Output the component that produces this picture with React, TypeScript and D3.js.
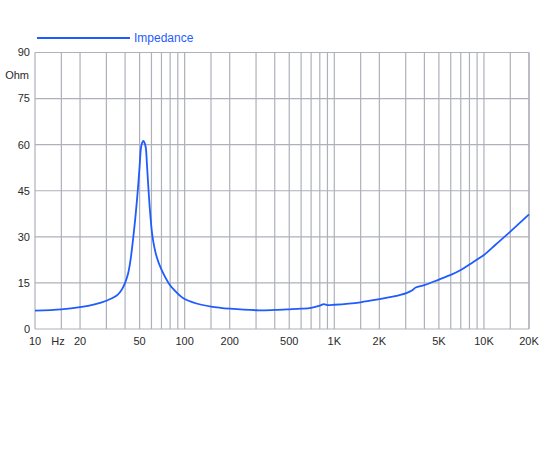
import * as d3 from "d3";
import { useEffect, useRef } from "react";

// impedance curve (Hz, Ohm)
const freqs = [
  10, 15, 20, 25, 30, 35, 37, 38.5, 40, 41, 42, 43.5, 45.4, 47, 48.6, 50, 51.1,
  52, 53, 54, 55, 56, 57.4, 59, 61, 65, 70, 78, 85, 98, 120, 150, 200, 300,
  400, 500, 600, 700, 800, 850, 900, 1000, 1500, 2000, 2500, 3000, 3300, 3500,
  4000, 5000, 6000, 7000, 8000, 9000, 10000, 12000, 15000, 20000,
];
const ohms = [
  6.0, 6.4, 7.1, 8.0, 9.2, 10.8, 12.0, 13.3, 15.0, 16.5, 18.3, 22.5, 30.0,
  37.0, 45.0, 53.0, 59.0, 60.6, 61.2, 60.6, 59.0, 53.5, 45.0, 37.0, 30.0,
  23.5, 19.3, 15.0, 12.7, 10.0, 8.3, 7.3, 6.6, 6.1, 6.2, 6.4, 6.6, 6.9, 7.6,
  8.1, 7.8, 7.9, 8.7, 9.7, 10.6, 11.6, 12.5, 13.5, 14.3, 16.1, 17.6, 19.2,
  21.0, 22.6, 24.1, 27.5, 31.7, 37.3,
];

const yTicks = [0, 15, 30, 45, 60, 75, 90];
const xLabels = [
  { f: 10, t: "10" },
  { f: 20, t: "20" },
  { f: 50, t: "50" },
  { f: 100, t: "100" },
  { f: 200, t: "200" },
  { f: 500, t: "500" },
  { f: 1000, t: "1K" },
  { f: 2000, t: "2K" },
  { f: 5000, t: "5K" },
  { f: 10000, t: "10K" },
  { f: 20000, t: "20K" },
];
const gridMult = [1, 1.5, 2, 3, 4, 5, 6, 7, 8, 9];
const decades = [10, 100, 1000, 10000];

const App = () => {
  const ref = useRef<SVGSVGElement | null>(null);

  useEffect(() => {
    const svg = d3.select(ref.current);
    svg.selectAll("*").remove();

    const left = 35;
    const right = 529;
    const top = 52.5;
    const bottom = 329;
    const font = "Liberation Sans, Arial, Helvetica, sans-serif";
    const gridColor = "#aeb1ba";
    const blue = "#1f5cff";
    const textColor = "#2a2a2a";

    const x = d3.scaleLog().domain([10, 20000]).range([left, right]);
    const y = d3.scaleLinear().domain([0, 90]).range([bottom, top]);

    const gridFreqs: number[] = [];
    decades.forEach(d => gridMult.forEach(m => {
      const f = d * m;
      if (f <= 20000) gridFreqs.push(f);
    }));
    gridFreqs.push(20000);

    const g = svg.append("g");

    g.selectAll("line.vx")
      .data(gridFreqs)
      .enter()
      .append("line")
      .attr("x1", d => x(d))
      .attr("x2", d => x(d))
      .attr("y1", top)
      .attr("y2", bottom)
      .attr("stroke", gridColor)
      .attr("stroke-width", 1.2);

    g.selectAll("line.hy")
      .data(yTicks)
      .enter()
      .append("line")
      .attr("x1", left)
      .attr("x2", right)
      .attr("y1", d => y(d))
      .attr("y2", d => y(d))
      .attr("stroke", gridColor)
      .attr("stroke-width", 1.2);

    g.selectAll("text.yl")
      .data(yTicks)
      .enter()
      .append("text")
      .attr("x", 30)
      .attr("y", d => y(d))
      .attr("dy", "0.35em")
      .attr("text-anchor", "end")
      .attr("font-family", font)
      .attr("font-size", 11)
      .attr("fill", textColor)
      .text(d => d.toString());

    g.append("text")
      .attr("x", 29)
      .attr("y", 75)
      .attr("dy", "0.35em")
      .attr("text-anchor", "end")
      .attr("font-family", font)
      .attr("font-size", 11)
      .attr("fill", textColor)
      .text("Ohm");

    g.selectAll("text.xl")
      .data(xLabels)
      .enter()
      .append("text")
      .attr("x", d => x(d.f))
      .attr("y", 341)
      .attr("dy", "0.35em")
      .attr("text-anchor", "middle")
      .attr("font-family", font)
      .attr("font-size", 11)
      .attr("fill", textColor)
      .text(d => d.t);

    g.append("text")
      .attr("x", 58)
      .attr("y", 341)
      .attr("dy", "0.35em")
      .attr("text-anchor", "middle")
      .attr("font-family", font)
      .attr("font-size", 11)
      .attr("fill", textColor)
      .text("Hz");

    const pts: [number, number][] = freqs.map((f, i) => [f, ohms[i]]);
    const line = d3.line<[number, number]>()
      .x(d => x(d[0]))
      .y(d => y(d[1]))
      .curve(d3.curveCatmullRom.alpha(0.5));

    g.append("path")
      .attr("d", line(pts) as string)
      .attr("fill", "none")
      .attr("stroke", blue)
      .attr("stroke-width", 1.8)
      .attr("stroke-linejoin", "round");

    // legend
    g.append("line")
      .attr("x1", 37)
      .attr("x2", 130)
      .attr("y1", 38)
      .attr("y2", 38)
      .attr("stroke", blue)
      .attr("stroke-width", 1.8);

    g.append("text")
      .attr("x", 134)
      .attr("y", 38)
      .attr("dy", "0.35em")
      .attr("font-family", font)
      .attr("font-size", 12)
      .attr("fill", blue)
      .text("Impedance");
  }, []);

  return (
    <svg
      ref={ref}
      width={550}
      height={450}
      style={{ position: "absolute", left: 0, top: 0, background: "#fff" }}
    />
  );
};

export default App;
